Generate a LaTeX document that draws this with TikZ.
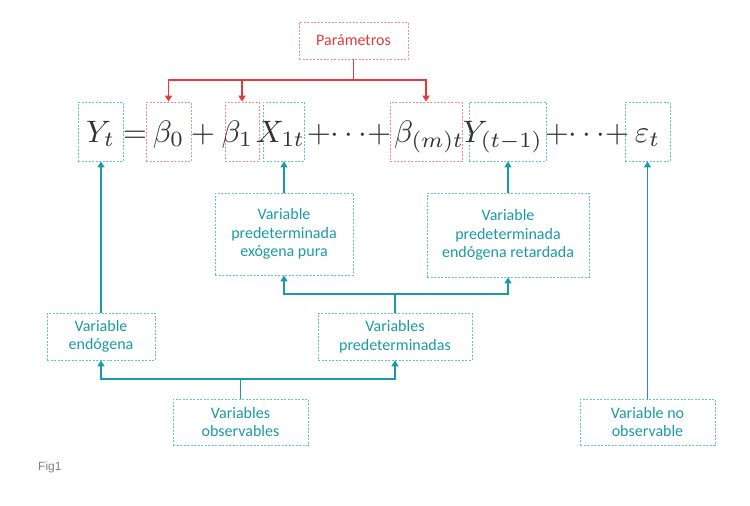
\documentclass[tikz,border=0pt]{standalone}
\usepackage{fontspec}
\setsansfont{Carlito}
\newfontfamily\figfont{Liberation Sans}
\usetikzlibrary{arrows.meta}
\definecolor{tealln}{HTML}{1A9AA6}
\definecolor{tealbx}{HTML}{5BC4CF}
\definecolor{redln}{HTML}{E23B3B}
\definecolor{redbx}{HTML}{F08C8C}
\definecolor{eqgray}{HTML}{333333}
\tikzset{
  lbl/.style={draw=tealbx, line width=0.8pt, dash pattern=on 2pt off 1.5pt, text=tealln,
    font=\sffamily\fontsize{16}{18.5}\selectfont, align=center, inner sep=0pt},
  eqbox/.style={draw=tealbx, line width=0.8pt, dash pattern=on 2pt off 1.5pt, text=eqgray,
    inner sep=0pt, text height=26pt, text depth=5pt, minimum height=59pt},
  parbox/.style={eqbox, draw=redbx},
  eqop/.style={text=eqgray, inner sep=0pt, anchor=base},
  tline/.style={draw=tealln, line width=1.4pt},
  rline/.style={draw=redln, line width=1.4pt},
  arr/.style={-{Triangle[length=6pt,width=7pt]}}
}
\newcommand{\eqbig}[1]{\scalebox{3.1}{$#1$}}
\newcommand{\eqtxt}[1]{\makebox[0pt]{\eqbig{#1}}}
\begin{document}
\begin{tikzpicture}[x=1pt, y=-1pt]
  \useasboundingbox (0,0) rectangle (750,506);
  % equation
  \node[eqbox, minimum width=45pt] (yt) at (100.5,131.5) {\eqtxt{Y_t}};
  \node[eqop] (eq) at (135,142) {\eqbig{=}};
  \node[parbox, minimum width=45pt] (b0) at (168.5,131.5) {\eqtxt{\beta_0}};
  \node[eqop] (pl1) at (203,142) {\eqbig{+}};
  \node[parbox, minimum width=34pt] (b1) at (242,131.5) {\eqtxt{\beta_1\hspace{3pt}}};
  \node[eqbox, minimum width=41pt] (x1) at (283.5,131.5) {\eqtxt{\hspace{-2pt}X_{1t}}};
  \node[eqop] (pl2) at (349,142) {\eqbig{{+}{\cdots}{+}}};
  \node[parbox, minimum width=72pt] (bm) at (426,131.5) {\eqtxt{\hspace{2pt}\beta_{(m)t}}};
  \node[eqbox, minimum width=77pt] (y1) at (507.5,131.5) {\eqtxt{\hspace{-3pt}Y_{(t-1)}}};
  \node[eqop] (pl3) at (587,142) {\eqbig{{+}{\cdots}{+}}};
  \node[eqbox, minimum width=45pt] (eps) at (647.5,131.5) {\eqtxt{\varepsilon_t}};
  % parametros
  \node[lbl, draw=redbx, text=redln, minimum width=109pt, minimum height=37pt] (par) at (353.5,40.5) {Parámetros};
  \coordinate (rj) at (353.5,80);
  \draw[rline] (par) -- (rj);
  \draw[rline, arr] (rj) -| (b0);
  \draw[rline, arr] (rj) -| (b1);
  \draw[rline, arr] (rj) -| (bm);
  % variables
  \node[lbl, minimum width=138pt, minimum height=82pt] (exo) at (284,234) {Variable\\predeterminada\\exógena pura};
  \node[lbl, minimum width=162pt, minimum height=84pt] (ret) at (508,235) {Variable\\predeterminada\\endógena retardada};
  \node[lbl, minimum width=154pt, minimum height=47pt] (pre) at (395,336.5) {Variables\\predeterminadas};
  \node[lbl, minimum width=108pt, minimum height=47pt] (endo) at (101,336.5) {Variable\\endógena};
  \node[lbl, minimum width=135pt, minimum height=46pt] (obs) at (240.5,422) {Variables\\observables};
  \node[lbl, minimum width=135pt, minimum height=46pt] (nobs) at (647.5,422) {Variable no\\observable};
  \draw[tline, arr] (exo) -- (exo |- x1.south);
  \draw[tline, arr] (ret) -- (ret |- y1.south);
  \draw[tline, arr] (endo) -- (endo |- yt.south);
  \draw[tline, arr] (nobs) -- (nobs |- eps.south);
  \coordinate (pj) at (395,294);
  \draw[tline] (pre) -- (pj);
  \draw[tline, arr] (pj) -| (exo);
  \draw[tline, arr] (pj) -| (ret);
  \coordinate (oj) at (240.5,379);
  \draw[tline] (obs) -- (oj);
  \draw[tline, arr] (oj) -| (endo);
  \draw[tline, arr] (oj) -| (pre);
  \node[font=\figfont\fontsize{12}{14}\selectfont, text=gray, anchor=west, inner sep=0pt] (fig) at (38,467) {Fig1};
\end{tikzpicture}
\end{document}
